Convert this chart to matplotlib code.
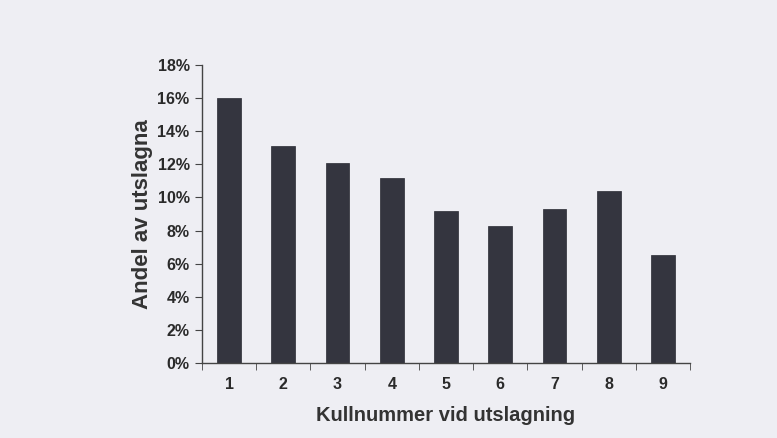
import matplotlib
matplotlib.use("Agg")
import matplotlib.pyplot as plt
import numpy as np

# data
kull = ['1', '2', '3', '4', '5', '6', '7', '8', '9']
andel = [16.0, 13.1, 12.1, 11.2, 9.2, 8.3, 9.3, 10.4, 6.5]
yticks = [0, 2, 4, 6, 8, 10, 12, 14, 16, 18]

plt.rcParams['font.family'] = ['Liberation Sans', 'DejaVu Sans']
plt.rcParams['font.weight'] = 'bold'

bg = '#eeeef3'
fig = plt.figure(figsize=(7.77, 4.38), dpi=100, facecolor=bg)
ax = fig.add_axes([0.26, 0.171, 0.628, 0.681], facecolor=bg)

x = np.arange(len(kull))
ax.bar(x, andel, width=0.44, color='#34353f', edgecolor='#2a2a33', linewidth=0.5)

ax.set_xlim(-0.5, len(kull) - 0.5)
ax.set_ylim(0, 18)
ax.set_yticks(yticks)
ax.set_yticklabels([f'{v}%' for v in yticks], fontsize=11.5, fontweight='bold', color='#2a2a2a')
ax.set_xticks(x)
ax.set_xticklabels(kull, fontsize=11.5, fontweight='bold', color='#2a2a2a')
ax.tick_params(axis='x', length=0, pad=10)
ax.set_xticks(np.arange(-0.5, len(kull)), minor=True)
ax.tick_params(axis='x', which='minor', length=5, direction='out', color='#444444')
ax.tick_params(axis='y', length=5, direction='out', color='#444444', pad=4)

for s in ['top', 'right']:
    ax.spines[s].set_visible(False)
for s in ['left', 'bottom']:
    ax.spines[s].set_color('#444444')
    ax.spines[s].set_linewidth(1.0)

ax.set_ylabel('Andel av utslagna', fontsize=16, fontweight='bold', color='#333333', labelpad=3)
ax.set_xlabel('Kullnummer vid utslagning', fontsize=14.5, fontweight='bold', color='#333333', labelpad=10)

fig.savefig('out.png', dpi=100, facecolor=bg)
